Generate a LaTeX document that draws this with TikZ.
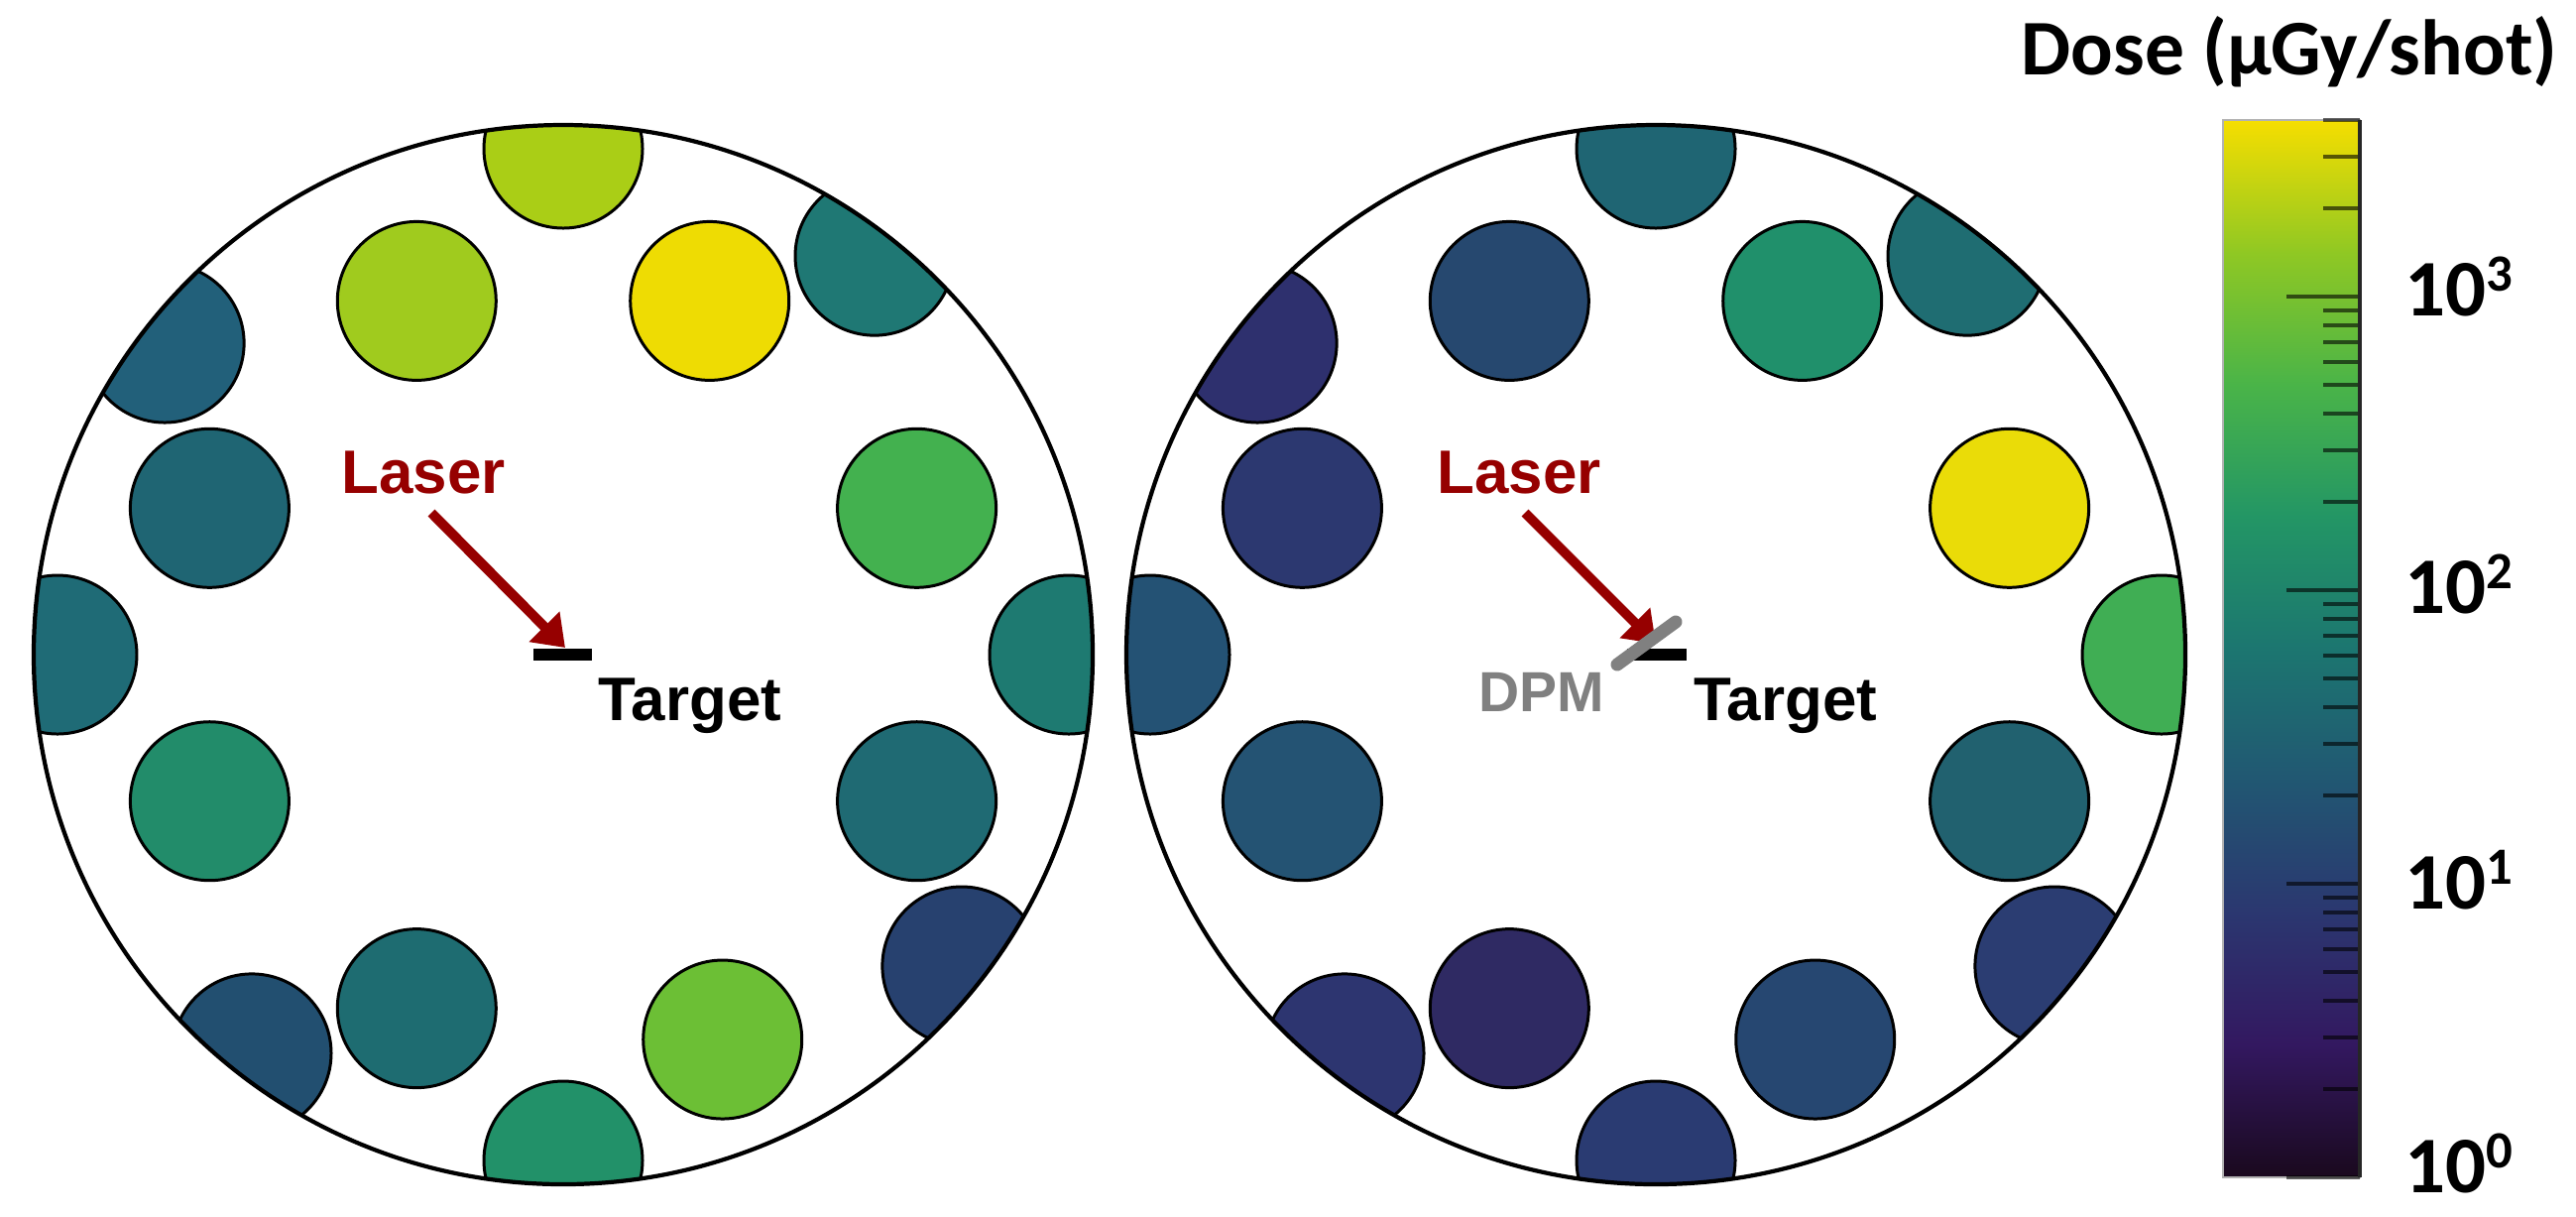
\documentclass[tikz,border=0pt]{standalone}
\usepackage{fontspec}
\setmainfont{Liberation Sans}
\newfontfamily\barfont{Carlito}
\usetikzlibrary{arrows.meta}

% palette of the dose scale, bottom to top
\definecolor{vir0}{RGB}{26,9,30}
\definecolor{vir1}{RGB}{51,24,96}
\definecolor{vir2}{RGB}{43,55,112}
\definecolor{vir3}{RGB}{33,87,114}
\definecolor{vir4}{RGB}{28,118,112}
\definecolor{vir5}{RGB}{35,150,101}
\definecolor{vir6}{RGB}{74,180,72}
\definecolor{vir7}{RGB}{144,200,35}
\definecolor{vir8}{RGB}{246,222,0}
\definecolor{laserred}{RGB}{150,0,0}
\definecolor{dpmgray}{RGB}{128,128,128}

\begin{document}
\begin{tikzpicture}[x = 0.01cm, y = -0.01cm,
	annot/.style = {inner sep = 0, anchor = base west, font = \bfseries\fontsize{17.6}{20}\selectfont},
	hole/.style = {draw = black, line width = 0.85pt},
	beam/.style = {laserred, line width = 2.8pt, -{Triangle[length = 8.5pt, width = 11.8pt]}},
	bartick/.style = {black, opacity = .6, line width = 1.1pt},
	ticklabel/.style = {inner sep = 0, anchor = base west, font = \barfont\bfseries\fontsize{23}{23}\selectfont}]
	\fill[white] (0,0) rectangle (2598,1226);
	\useasboundingbox (0,0) rectangle (2598,1226);
	%\draw[help lines, step = 100] (0,0) grid (2598,1226);
	\coordinate (cL) at (568,660);
	\coordinate (cR) at (1670,660);

	% left chamber
	\begin{scope}
		\clip (cL) circle (534);
		\foreach \a/\r/\col in {-90/510/AACE16, -52/510/1F7874, -142/510/22607A, 180/510/1F6B76,
				0/510/1E7A71, 38/510/27416F, 128/510/224F70, 90/510/229169,
				-112.5/386/A0CB1E, -67.5/386/EEDC03, -22.5/386/43B14F, -157.5/386/1F6573,
				157.5/386/228C6A, 22.5/386/1F6A73, 112.5/386/1E6C71, 67.5/420/6CBF35} {
			\definecolor{holecol}{HTML}{\col}
			\filldraw[hole, fill = holecol] (cL) ++(\a:\r) circle (80);
		}
	\end{scope}
	\draw[line width = 1.2pt] (cL) circle (534);

	% right chamber
	\begin{scope}
		\clip (cR) circle (534);
		\foreach \a/\r/\col in {-90/510/1F6573, -52/510/1F6D72, -142/510/2E306E, 180/510/245274,
				0/510/40AE54, 38/510/2B3D72, 128/510/2D3570, 90/510/2A3B72,
				-112.5/386/26486F, -67.5/386/20906B, -22.5/386/EADC08, -157.5/386/2C3870,
				157.5/386/245373, 22.5/386/21616F, 112.5/386/2F2A63, 67.5/420/264771} {
			\definecolor{holecol}{HTML}{\col}
			\filldraw[hole, fill = holecol] (cR) ++(\a:\r) circle (80);
		}
	\end{scope}
	\draw[line width = 1.2pt] (cR) circle (534);

	% laser and target, left
	\node[annot, laserred] (laserL) at (344,497) {Laser};
	\node[annot] (targetL) at (603,726) {Target};
	\coordinate (beamL) at (435,517);
	\coordinate (hitL) at (570,653);
	\draw[beam] (beamL) -- (hitL);
	\draw[line width = 3.4pt] (538,660) -- (597,660);

	% laser, DPM and target, right
	\node[annot, laserred] (laserR) at (1449,497) {Laser};
	\node[annot] (targetR) at (1708,726) {Target};
	\node[annot, dpmgray, font = \bfseries\fontsize{16.2}{18}\selectfont] (dpm) at (1491,717) {DPM};
	\coordinate (beamR) at (1538,517);
	\coordinate (hitR) at (1670,649);
	\draw[beam] (beamR) -- (hitR);
	\draw[line width = 3.4pt] (1641,660) -- (1701,660);
	\draw[dpmgray, line width = 3.7pt, line cap = round] (1631,670) -- (1690,627);

	% colour scale
	\foreach \i [count = \j] in {0,...,7} {
		\pgfmathsetmacro\ylow{1187-133.25*\i}
		\pgfmathsetmacro\yhigh{1187-133.25*\j-0.5}
		\shade[bottom color = vir\i, top color = vir\j] (2242,\ylow) rectangle (2380,\yhigh);
	}
	\draw[gray!60, line width = 0.5pt] (2242,121) rectangle (2380,1187);
	\foreach \d in {0,...,3}
		\draw[bartick] (2380,{1187-296*\d}) -- ++(-74,0);
	\foreach \d in {0,1,2}
		\foreach \k in {2,...,9}
			\draw[bartick] (2380,{1187-296*(\d+log10(\k))}) -- ++(-37,0);
	\foreach \k in {2,3,4}
		\draw[bartick] (2380,{1187-296*(3+log10(\k))}) -- ++(-37,0);
	\draw[black!85, line width = 0.9pt] (2380,121) -- (2380,1187);

	\foreach \d/\yb in {0/1202, 1/916, 2/618, 3/318}
		\node[ticklabel] (dec\d) at (2425,\yb) {10\raisebox{0.25cm}{\fontsize{15}{15}\selectfont\d}};
	\node[inner sep = 0, anchor = base, font = \barfont\bfseries\fontsize{22.6}{22.6}\selectfont] (title) at (2309,75) {Dose (µGy/shot)};
\end{tikzpicture}
\end{document}
